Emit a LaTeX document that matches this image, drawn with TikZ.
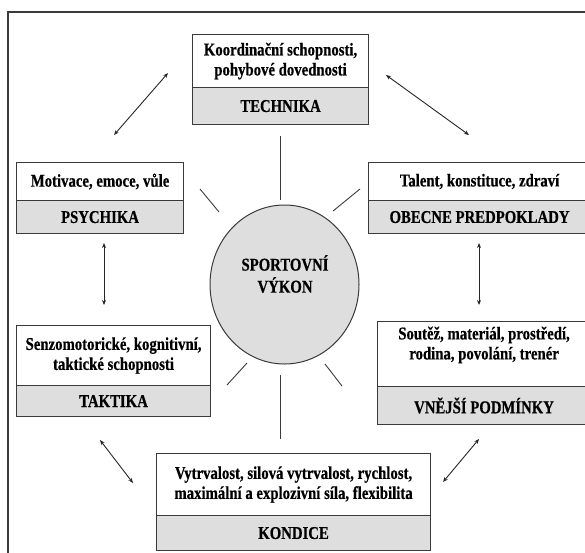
\documentclass[tikz,border=0pt]{standalone}
\usepackage{fontspec}
\setmainfont{Liberation Serif}[FakeStretch=0.82, BoldFeatures={FakeBold=0.5}]
\usetikzlibrary{arrows.meta,shapes.geometric}
\definecolor{edge}{HTML}{3A3A3A}
\definecolor{shade}{HTML}{DEDEDE}

\begin{document}
\begin{tikzpicture}[x=1pt,y=-1pt,
  part/.style={draw=edge, line width=1.1pt, rectangle, inner sep=0pt,
    anchor=north west, align=center,
    font=\fontsize{18}{20}\selectfont\bfseries},
  textpart/.style={part, fill=white},
  labelpart/.style={part, fill=shade},
  ray/.style={draw=edge, line width=0.9pt},
  link/.style={draw=black!85, line width=0.9pt,
    {Stealth[length=5pt,width=4pt]}-{Stealth[length=5pt,width=4pt]}},
]
\useasboundingbox (0,0) rectangle (585,552);
\clip (0,0) rectangle (585,552);

% outer frame (runs past the right and bottom edges)
\draw[edge, line width=1.4pt] (8,600) -- (8,12) -- (600,12);

% central performance circle
\node[ellipse, draw=edge, fill=shade, line width=1pt, inner sep=0pt,
  minimum width=149pt, minimum height=159pt] (core) at (284.5,284.5) {};
\node[font=\fontsize{18}{22}\selectfont\bfseries, align=center]
  (coretext) at (285,274) {SPORTOVNÍ\\VÝKON};

% TECHNIKA
\node[textpart, minimum width=176pt, minimum height=53pt] (techtext) at (192,34)
  {Koordinační schopnosti,\\pohybové dovednosti};
\node[labelpart, minimum width=176pt, minimum height=37pt] (techlabel) at (192,87)
  {TECHNIKA};

% PSYCHIKA
\node[textpart, minimum width=167pt, minimum height=38pt] (psytext) at (16,162)
  {Motivace, emoce, vůle};
\node[labelpart, minimum width=167pt, minimum height=33pt] (psylabel) at (16,200)
  {PSYCHIKA};

% OBECNE PREDPOKLADY
\node[textpart, minimum width=222pt, minimum height=38pt] (gentext) at (368,162)
  {Talent, konstituce, zdraví};
\node[labelpart, minimum width=222pt, minimum height=33pt] (genlabel) at (368,200)
  {OBECNE PREDPOKLADY};

% TAKTIKA
\node[textpart, minimum width=194pt, minimum height=60pt] (tactext) at (16,325)
  {Senzomotorické, kognitivní,\\taktické schopnosti};
\node[labelpart, minimum width=194pt, minimum height=31pt] (taclabel) at (16,385)
  {TAKTIKA};

% VNĚJŠÍ PODMÍNKY
\node[textpart, minimum width=213pt, minimum height=65pt] (exttext) at (377,321)
  {Soutěž, materiál, prostředí,\\rodina, povolání, trenér\\[2pt]};
\node[labelpart, minimum width=213pt, minimum height=38pt] (extlabel) at (377,386)
  {VNĚJŠÍ PODMÍNKY};

% KONDICE
\node[textpart, minimum width=274pt, minimum height=62pt] (context) at (156,453)
  {Vytrvalost, silová vytrvalost, rychlost,\\maximální a explozivní síla, flexibilita};
\node[labelpart, minimum width=274pt, minimum height=35pt] (conlabel) at (156,515)
  {KONDICE};

% rays around the circle
\coordinate (r1a) at (280,136);   \coordinate (r1b) at (280,200);
\coordinate (r2a) at (200,189);   \coordinate (r2b) at (219,212);
\coordinate (r3a) at (333,211);   \coordinate (r3b) at (360,189);
\coordinate (r4a) at (227,385);   \coordinate (r4b) at (247,363);
\coordinate (r5a) at (325,364);   \coordinate (r5b) at (342,386);
\coordinate (r6a) at (280,375);   \coordinate (r6b) at (280,439);
\foreach \r in {1,...,6} \draw[ray] (r\r a) -- (r\r b);

% double-headed links between the areas
\coordinate (l1a) at (114,135);   \coordinate (l1b) at (168,73);
\coordinate (l2a) at (386,75);    \coordinate (l2b) at (469,135);
\coordinate (l3a) at (104,243);   \coordinate (l3b) at (104,305);
\coordinate (l4a) at (479,243);   \coordinate (l4b) at (479,305);
\coordinate (l5a) at (100,440);   \coordinate (l5b) at (133,483);
\coordinate (l6a) at (443,482);   \coordinate (l6b) at (479,439);
\foreach \l in {1,...,6} \draw[link] (l\l a) -- (l\l b);
\end{tikzpicture}
\end{document}
